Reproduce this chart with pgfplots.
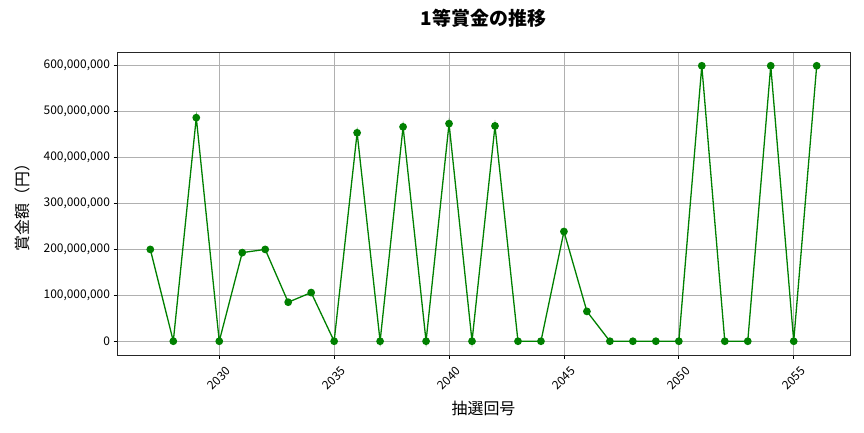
\documentclass[border=0pt]{standalone}
\usepackage{fontspec}
\setmainfont{Noto Sans CJK JP}
\usepackage{pgfplots}
\pgfplotsset{compat=1.18}

\pgfplotstableread{
year prize
2027 200000000
2028 0
2029 487000000
2030 0
2031 193000000
2032 200000000
2033 85000000
2034 106000000
2035 0
2036 454000000
2037 0
2038 467000000
2039 0
2040 474000000
2041 0
2042 469000000
2043 0
2044 0
2045 239000000
2046 65000000
2047 0
2048 0
2049 0
2050 0
2051 600000000
2052 0
2053 0
2054 600000000
2055 0
2056 600000000
}\prizes

\definecolor{mplgreen}{RGB}{0,128,0}
\definecolor{gridgray}{RGB}{176,176,176}

\begin{document}
\begin{tikzpicture}[x=1bp,y=1bp]
\path[use as bounding box] (-117,-77) rectangle (747,355);
\begin{axis}[
    at={(0,0)}, anchor=south west,
    scale only axis,
    width=733bp, height=303bp,
    xmin=2025.55, xmax=2057.45,
    ymin=-30000000, ymax=630000000,
    xtick={2030,2035,2040,2045,2050,2055},
    ytick={0,100000000,200000000,300000000,400000000,500000000,600000000},
    yticklabels={0,{100,000,000},{200,000,000},{300,000,000},{400,000,000},{500,000,000},{600,000,000}},
    scaled y ticks=false,
    /pgf/number format/assume math mode=true,
    /pgf/number format/1000 sep={},
    tick label style={font=\fontsize{12}{14}\selectfont, text=black},
    xticklabel style={anchor=center, yshift=-20bp, rotate=45},
    tick align=outside,
    tick pos=left,
    major tick length=3.5bp,
    tick style={black, line width=0.8bp},
    axis line style={black!85, line width=0.8bp},
    grid=major,
    grid style={gridgray, line width=0.8bp},
    title={\textbf{1等賞金の推移}},
    title style={font=\fontsize{19}{21}\selectfont, at={(axis description cs:0.5,1.092)}, anchor=center},
    xlabel={抽選回号},
    xlabel style={font=\fontsize{16}{18}\selectfont, at={(axis description cs:0.5,-0.175)}, anchor=center},
    ylabel={賞金額（円）},
    ylabel style={font=\fontsize{16}{18}\selectfont, at={(axis description cs:-0.1296,0.5)}, anchor=center, rotate=0},
]
\addplot[mplgreen, line width=1.3bp, mark=*, mark size=3.2bp, mark options={fill=mplgreen, draw=mplgreen}] table[x=year, y=prize] {\prizes};
\end{axis}
\end{tikzpicture}
\end{document}
